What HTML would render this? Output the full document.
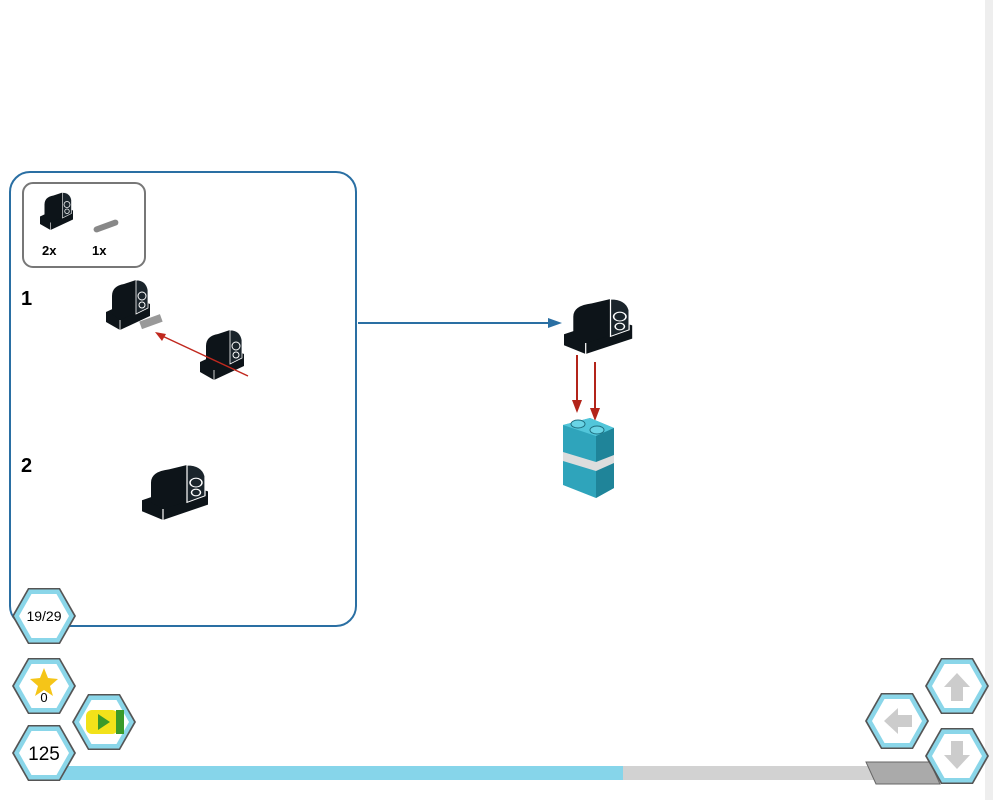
<!DOCTYPE html>
<html><head><meta charset="utf-8"><style>
html,body{margin:0;padding:0;background:#fff;}
svg{display:block;font-family:"Liberation Sans",sans-serif;}
</style></head><body>
<svg width="993" height="800" viewBox="0 0 993 800">
<defs>
<g id="hex"><polygon points="-32,0 -16,-28 16,-28 32,0 16,28 -16,28" fill="#555"/><polygon points="-30,0 -15,-26.5 15,-26.5 30,0 15,26.5 -15,26.5" fill="#8ad6e9"/><polygon points="-25,0 -12.5,-22 12.5,-22 25,0 12.5,22 -12.5,22" fill="#fff"/></g>
<g id="blk">
<polygon points="0,22 30,8 44,14 44,26 14,40 0,32" fill="#0d1419"/>
<path d="M6,24 L6,6 Q6,-4 18,-6 L30,-10 Q40,-10 42,0 L42,18 L14,30 Z" fill="#0d1419"/>
<path d="M30,-10 Q40,-10 42,0 L42,18 L30,24 L30,0 Q30,-8 30,-10Z" fill="#1b252c" stroke="#fff" stroke-width="0.8"/>
<circle cx="36" cy="6" r="4" fill="none" stroke="#fff" stroke-width="1"/>
<circle cx="36" cy="15" r="3" fill="none" stroke="#fff" stroke-width="1"/>
<path d="M14,30 L14,40" stroke="#fff" stroke-width="0.8"/>
</g>
</defs>
<rect x="985" y="0" width="8" height="800" fill="#eee"/>
<rect x="10" y="172" width="346" height="454" rx="20" fill="none" stroke="#2a6fa3" stroke-width="2"/>
<rect x="23" y="183" width="122" height="84" rx="10" fill="#fff" stroke="#777" stroke-width="2"/>
<use href="#blk" transform="translate(40,200) scale(0.75)"/>
<rect x="93" y="223" width="26" height="6" rx="3" fill="#888" transform="rotate(-20 106 226)"/>
<text x="42" y="255" font-size="13" font-weight="bold">2x</text>
<text x="92" y="255" font-size="13" font-weight="bold">1x</text>
<text x="21" y="305" font-size="20" font-weight="bold">1</text>
<text x="21" y="472" font-size="20" font-weight="bold">2</text>
<use href="#blk" transform="translate(106,290)"/>
<rect x="140" y="318" width="22" height="8" fill="#999" transform="rotate(-20 150 322)"/>
<use href="#blk" transform="translate(200,340)"/>
<line x1="248" y1="376" x2="158" y2="334" stroke="#c0281e" stroke-width="1.5"/>
<polygon points="155,332 166,334 162,341" fill="#c0281e"/>
<use href="#blk" transform="translate(142,476) scale(1.5,1.1)"/>
<line x1="358" y1="323" x2="552" y2="323" stroke="#2a6fa3" stroke-width="2"/>
<polygon points="562,323 548,318 548,328" fill="#2a6fa3"/>
<use href="#blk" transform="translate(564,310) scale(1.55,1.1)"/>
<line x1="577" y1="355" x2="577" y2="405" stroke="#b3241a" stroke-width="2"/>
<line x1="595" y1="362" x2="595" y2="415" stroke="#b3241a" stroke-width="2"/>
<polygon points="572,400 582,400 577,413" fill="#b3241a"/>
<polygon points="590,408 600,408 595,421" fill="#b3241a"/>
<polygon points="563,425 590,418 614,428 614,488 596,498 563,485" fill="#2fa4bb"/>
<polygon points="563,425 590,418 614,428 596,436" fill="#52c6da"/>
<polygon points="596,436 614,428 614,488 596,498" fill="#1f8499"/>
<polygon points="563,452 596,462 614,455 614,463 596,471 563,461" fill="#ddd"/>
<ellipse cx="578" cy="424" rx="7" ry="4" fill="#6ad4e5" stroke="#1f6f80"/>
<ellipse cx="597" cy="430" rx="7" ry="4" fill="#6ad4e5" stroke="#1f6f80"/>
<rect x="60" y="766" width="563" height="14" fill="#86d5ea"/>
<rect x="623" y="766" width="257" height="14" fill="#d2d2d2"/>
<polygon points="866,762 930,762 940,784 876,784" fill="#aaa" stroke="#666"/>
<use href="#hex" transform="translate(44,616)"/>
<text x="44" y="621" font-size="14" text-anchor="middle">19/29</text>
<use href="#hex" transform="translate(44,686)"/>
<polygon points="44,668 48,678 58,679 50,686 53,696 44,690 35,696 38,686 30,679 40,678" fill="#f5c518"/>
<text x="44" y="702" font-size="13" text-anchor="middle">0</text>
<use href="#hex" transform="translate(104,722)"/>
<rect x="86" y="710" width="32" height="24" rx="6" fill="#f2e21a"/>
<rect x="116" y="710" width="8" height="24" fill="#3a9a2a"/>
<polygon points="98,714 98,730 110,722" fill="#3a9a2a"/>
<use href="#hex" transform="translate(44,753)"/>
<text x="44" y="760" font-size="19" text-anchor="middle">125</text>
<use href="#hex" transform="translate(897,721)"/>
<polygon points="884,721 898,708 898,715 912,715 912,727 898,727 898,734" fill="#ccc"/>
<use href="#hex" transform="translate(957,686)"/>
<polygon points="957,673 970,687 963,687 963,701 951,701 951,687 944,687" fill="#ccc"/>
<use href="#hex" transform="translate(957,756)"/>
<polygon points="957,769 970,755 963,755 963,741 951,741 951,755 944,755" fill="#ccc"/>
</svg>
</body></html>
